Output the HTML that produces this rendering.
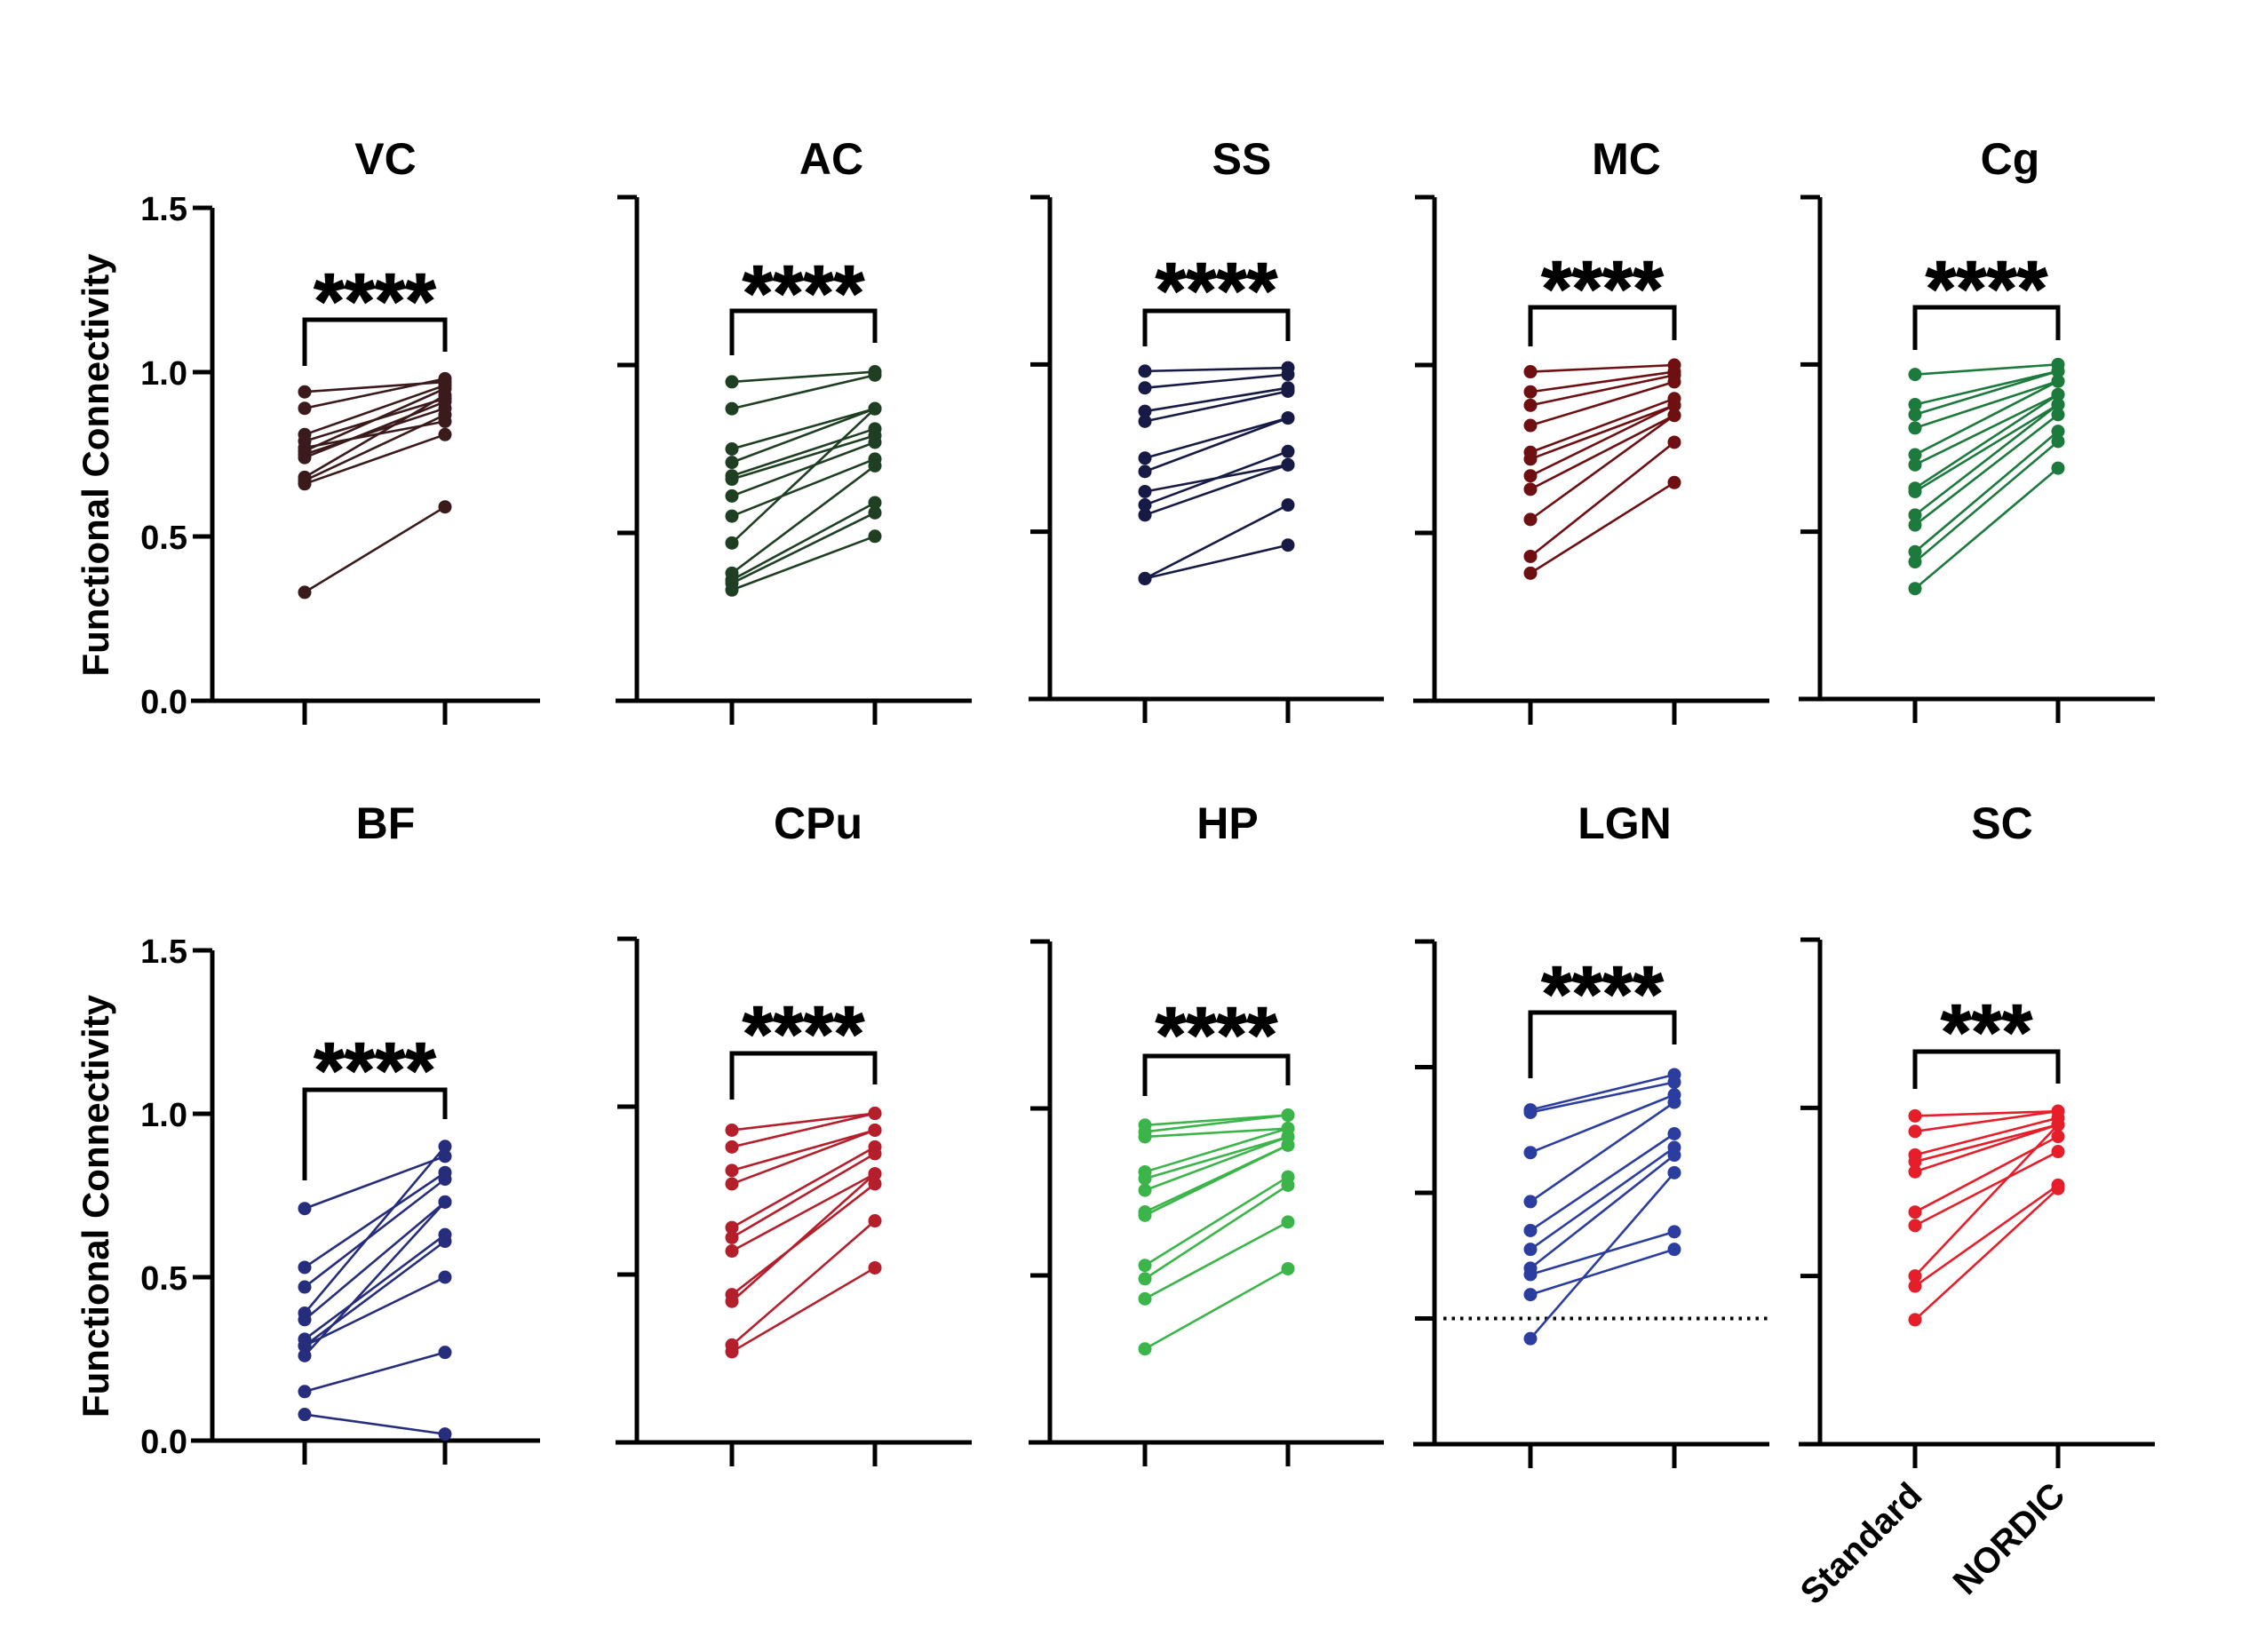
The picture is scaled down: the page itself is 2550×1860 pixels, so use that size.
<!DOCTYPE html>
<html><head><meta charset="utf-8"><title>Functional Connectivity Standard vs NORDIC</title>
<style>
html,body{margin:0;padding:0;background:#fff;}
svg{display:block;}
text{font-family:"Liberation Sans",Arial,sans-serif;font-weight:bold;fill:#000;}
</style></head>
<body>
<svg id="chart" width="2550" height="1860" viewBox="0 0 2550 1860" xmlns="http://www.w3.org/2000/svg"></svg>
<script>
// ---- data ----
const categories = ["Standard", "NORDIC"];
const yTickLabels = ["0.0", "0.5", "1.0", "1.5"];
const yTickValues = [0, 0.5, 1.0, 1.5];
const lgnTickValues = [0, 1, 2, 3, 4];
const lgnThreshold = 1;

const vcStandard = [0.94,0.89,0.81,0.79,0.77,0.76,0.75,0.74,0.68,0.67,0.66,0.33];
const vcNordic   = [0.97,0.98,0.96,0.92,0.85,0.95,0.89,0.91,0.93,0.87,0.81,0.59];
const acStandard = [0.95,0.87,0.75,0.71,0.67,0.66,0.61,0.55,0.47,0.38,0.36,0.35,0.33];
const acNordic   = [0.98,0.97,0.87,0.87,0.81,0.79,0.77,0.72,0.87,0.70,0.59,0.56,0.49];
const ssStandard = [0.98,0.93,0.86,0.83,0.72,0.68,0.62,0.58,0.55,0.36,0.36];
const ssNordic   = [0.99,0.97,0.93,0.92,0.84,0.84,0.70,0.74,0.70,0.58,0.46];
const mcStandard = [0.98,0.92,0.88,0.82,0.74,0.72,0.67,0.63,0.54,0.43,0.38];
const mcNordic   = [1.0,0.98,0.97,0.95,0.90,0.88,0.88,0.85,0.85,0.77,0.65];
const cgStandard = [0.97,0.88,0.85,0.81,0.73,0.70,0.63,0.62,0.55,0.52,0.44,0.41,0.33];
const cgNordic   = [1.0,0.98,0.98,0.95,0.95,0.91,0.91,0.88,0.88,0.85,0.80,0.77,0.69];
const bfStandard = [0.71,0.53,0.47,0.39,0.37,0.31,0.29,0.26,0.29,0.15,0.08];
const bfNordic   = [0.87,0.82,0.80,0.90,0.73,0.63,0.61,0.73,0.50,0.27,0.02];
const cpuStandard = [0.93,0.88,0.81,0.77,0.64,0.61,0.57,0.44,0.42,0.29,0.27];
const cpuNordic   = [0.98,0.98,0.93,0.93,0.88,0.86,0.80,0.77,0.80,0.66,0.52];
const hpStandard = [0.95,0.93,0.915,0.81,0.79,0.755,0.69,0.68,0.53,0.49,0.43,0.28];
const hpNordic   = [0.98,0.98,0.94,0.94,0.915,0.915,0.89,0.89,0.795,0.77,0.66,0.52];
const lgnStandard = [2.66,2.64,2.32,1.93,1.70,1.55,1.40,1.35,1.19,0.84];
const lgnNordic   = [2.94,2.88,2.78,2.72,2.47,2.36,2.30,1.69,1.55,2.16];
const scStandard = [0.976,0.93,0.86,0.84,0.81,0.69,0.65,0.50,0.47,0.37];
const scNordic   = [0.99,0.99,0.97,0.95,0.95,0.915,0.87,0.95,0.77,0.76];
const significance = ["****","****","****","****","****","****","****","****","****","***"];

// ---- layout ----
const panels = [
 {name:"VC", std:vcStandard, nor:vcNordic, color:"#3b1a1c", ax:239, x1:343, x2:501, xe:608, yt:234, yb:789, max:1.5, labels:true, tx:434, ty:178, br:360, l1:412, l2:396, sy:319},
 {name:"AC", std:acStandard, nor:acNordic, color:"#1e3f22", ax:717, x1:824, x2:985, xe:1094, yt:222, yb:789, max:1.5, tx:936, ty:178, br:350, l1:400, l2:386, sy:310},
 {name:"SS", std:ssStandard, nor:ssNordic, color:"#161a44", ax:1182, x1:1289, x2:1450, xe:1558, yt:222, yb:787, max:1.5, tx:1398, ty:178, br:350, l1:390, l2:384, sy:307},
 {name:"MC", std:mcStandard, nor:mcNordic, color:"#6e0f12", ax:1615, x1:1723, x2:1885, xe:1992, yt:222, yb:789, max:1.5, tx:1831, ty:178, br:346, l1:390, l2:383, sy:305},
 {name:"Cg", std:cgStandard, nor:cgNordic, color:"#1c7a3c", ax:2049, x1:2156, x2:2317, xe:2426, yt:222, yb:787, max:1.5, tx:2263, ty:178, br:346, l1:394, l2:383, sy:305},
 {name:"BF", std:bfStandard, nor:bfNordic, color:"#262d7c", ax:239, x1:343, x2:501, xe:608, yt:1070, yb:1622, max:1.5, labels:true, tx:434, ty:926, br:1227, l1:1329, l2:1260, sy:1185},
 {name:"CPu", std:cpuStandard, nor:cpuNordic, color:"#b51f2b", ax:717, x1:824, x2:985, xe:1094, yt:1057, yb:1624, max:1.5, tx:921, ty:926, br:1186, l1:1238, l2:1221, sy:1144},
 {name:"HP", std:hpStandard, nor:hpNordic, color:"#3bb54a", ax:1182, x1:1289, x2:1450, xe:1558, yt:1060, yb:1624, max:1.5, tx:1382, ty:926, br:1189, l1:1234, l2:1222, sy:1145},
 {name:"LGN", std:lgnStandard, nor:lgnNordic, color:"#2b3d9e", ax:1615, x1:1723, x2:1885, xe:1992, yt:1060, yb:1626, max:4, lgn:true, tx:1829, ty:926, br:1140, l1:1214, l2:1176, sy:1099},
 {name:"SC", std:scStandard, nor:scNordic, color:"#e61e2a", ax:2049, x1:2156, x2:2317, xe:2426, yt:1058, yb:1626, max:1.5, catLabels:true, tx:2254, ty:926, br:1184, l1:1226, l2:1220, sy:1142}
];

const svg = document.getElementById('chart');
const NS = "http://www.w3.org/2000/svg";
function mk(tag, attrs, parent){
  const e = document.createElementNS(NS, tag);
  for (const k in attrs) e.setAttribute(k, attrs[k]);
  (parent||svg).appendChild(e);
  return e;
}

panels.forEach((p, i) => {
  const g = mk('g', {});
  
  
  const yScale = v => p.yb - (v / p.max) * (p.yb - p.yt);
  const xScale = c => c === 0 ? p.x1 : p.x2;

  // title
  const t = mk('text', {x:p.tx, y:p.ty + 18, 'text-anchor':'middle', 'font-size':50}, g);
  t.textContent = p.name;
  
  

  // axes
  const ya = mk('line', {x1:p.ax, y1:p.yt, x2:p.ax, y2:p.yb+2, stroke:'#000', 'stroke-width':5}, g);
  
  
  const xa = mk('line', {x1:p.ax-24, y1:p.yb, x2:p.xe, y2:p.yb, stroke:'#000', 'stroke-width':5}, g);
  
  
  const tv = p.lgn ? lgnTickValues : yTickValues;
  tv.forEach((v, k) => {
    if (v === 0) return;
    const tk = mk('line', {x1:p.ax-22, y1:yScale(v), x2:p.ax, y2:yScale(v), stroke:'#000', 'stroke-width':5}, g);
    
    
  });
  if (p.labels) {
    yTickValues.forEach((v, k) => {
      const tl = mk('text', {x:p.ax-28, y:yScale(v)+14, 'text-anchor':'end', 'font-size':38}, g);
      tl.textContent = yTickLabels[k];
      
      
    });
    const cy = (p.yt + p.yb) / 2 + 12;
    const yl = mk('text', {x:0, y:0, 'text-anchor':'middle', 'font-size':42, transform:'translate(122,' + cy + ') rotate(-90)'}, g);
    yl.textContent = 'Functional Connectivity';
    
    
  }
  [0, 1].forEach(c => {
    const xt = mk('line', {x1:xScale(c), y1:p.yb, x2:xScale(c), y2:p.yb+27, stroke:'#000', 'stroke-width':5}, g);
    
    
  });
  if (p.catLabels) {
    categories.forEach((c, k) => {
      const tx = xScale(k) + 10, ty = p.yb + 60;
      const cl = mk('text', {x:tx, y:ty, 'text-anchor':'end', 'font-size':40, transform:'rotate(-45 ' + tx + ' ' + ty + ')'}, g);
      cl.textContent = c;
      
      
    });
  }
  if (p.lgn) {
    const dl = mk('line', {x1:p.ax+10, y1:yScale(lgnThreshold), x2:p.xe, y2:yScale(lgnThreshold), stroke:'#000', 'stroke-width':4, 'stroke-dasharray':'3.5 6'}, g);
    
    
  }

  // significance bracket
  const b = mk('path', {d:'M' + p.x1 + ' ' + p.l1 + ' V' + p.br + ' H' + p.x2 + ' V' + p.l2, fill:'none', stroke:'#000', 'stroke-width':5}, g);
  
  
  const st = mk('text', {x:(p.x1+p.x2)/2, y:p.sy + 50, 'text-anchor':'middle', 'font-size':88, stroke:'#000', 'stroke-width':1.5}, g);
  st.textContent = significance[i];
  
  

  // paired lines
  p.std.forEach((v, k) => {
    const ln = mk('line', {x1:xScale(0), y1:yScale(v), x2:xScale(1), y2:yScale(p.nor[k]), stroke:p.color, 'stroke-width':2.6}, g);
    
    
  });
  p.std.forEach((v, k) => {
    const d1 = mk('circle', {cx:xScale(0), cy:yScale(v), r:7.5, fill:p.color}, g);
    
    
    const d2 = mk('circle', {cx:xScale(1), cy:yScale(p.nor[k]), r:7.5, fill:p.color}, g);
    
    
  });
});
</script>
</body></html>
